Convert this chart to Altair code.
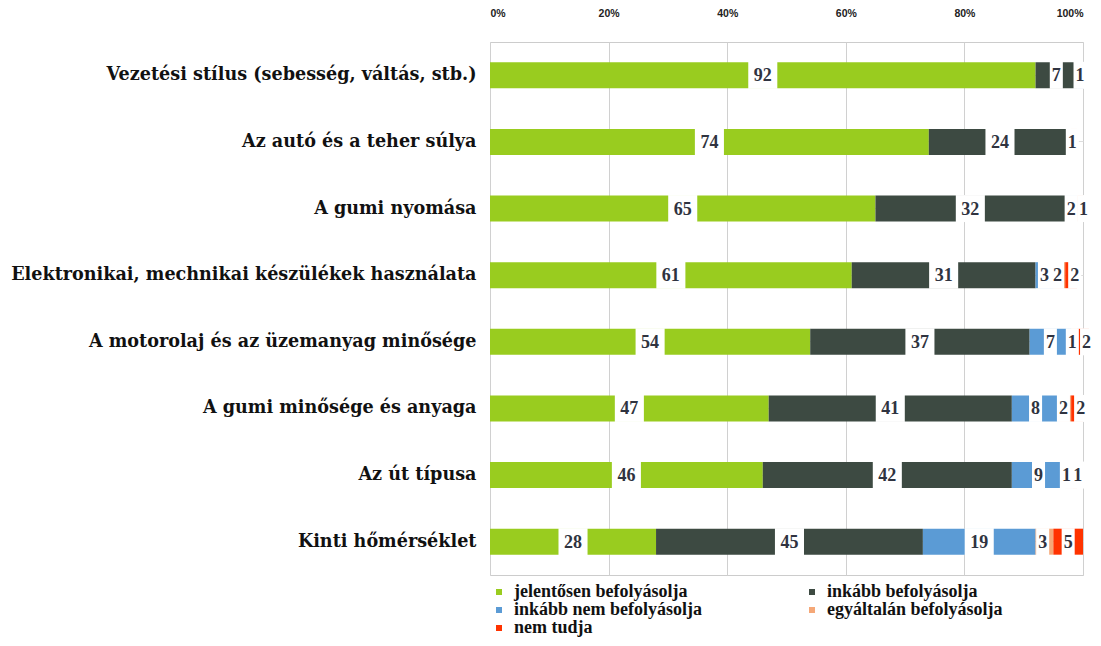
import altair as alt
import pandas as pd

categories = [
    "Vezetési stílus (sebesség, váltás, stb.)",
    "Az autó és a teher súlya",
    "A gumi nyomása",
    "Elektronikai, mechnikai készülékek használata",
    "A motorolaj és az üzemanyag minősége",
    "A gumi minősége és anyaga",
    "Az út típusa",
    "Kinti hőmérséklet",
]
series = [
    "jelentősen befolyásolja",
    "inkább befolyásolja",
    "inkább nem befolyásolja",
    "egyáltalán befolyásolja",
    "nem tudja",
]
colors = ["#99cc1f", "#3d4a42", "#5b9bd5", "#f5a878", "#ff3300"]

jelentosen = [92, 74, 65, 61, 54, 47, 46, 28]
inkabb = [7, 24, 32, 31, 37, 41, 42, 45]
inkabb_nem = [1, 0, 2, 3, 7, 8, 9, 19]
egyaltalan = [0, 1, 0, 2, 1, 2, 1, 3]
nem_tudja = [0, 0, 1, 2, 2, 2, 1, 5]

rows = []
for s_i, (s, vals) in enumerate(zip(series, [jelentosen, inkabb, inkabb_nem, egyaltalan, nem_tudja])):
    for c, v in zip(categories, vals):
        rows.append({"cat": c, "series": s, "order": s_i, "value": v})
df = pd.DataFrame(rows)

base = alt.Chart(df).transform_stack(
    stack="value", groupby=["cat"], as_=["x0", "x1"], sort=[alt.SortField("order")]
).transform_calculate(
    mid="(datum.x0 + datum.x1) / 2 + (datum.order == 4 && datum.value < 3 ? 0.6 : (datum.order == 3 ? -0.3 : 0))",
    half="length(toString(datum.value)) > 1 ? 2.45 : 1.1",
).transform_calculate(
    b0="datum.mid - datum.half",
    b1="datum.mid + datum.half",
)

yenc = alt.Y("cat:N", sort=categories, title=None,
             scale=alt.Scale(paddingInner=0.6, paddingOuter=0.3),
             axis=alt.Axis(labelFont="DejaVu Serif", labelFontWeight="bold",
                           labelFontSize=17.6, labelColor="#111", labelPadding=14,
                           ticks=False, domain=False, labelLimit=600))

bars = base.mark_bar(size=26).encode(
    x=alt.X("x0:Q", scale=alt.Scale(domain=[0, 100], nice=False), title=None,
            axis=alt.Axis(orient="top", values=[0, 20, 40, 60, 80, 100],
                          labelExpr="datum.value + '%'", labelFont="Liberation Sans",
                          labelFontWeight="bold", labelFontSize=10.5, labelColor="#222",
                          ticks=False, domain=False, gridColor="#d0d0d0", labelPadding=24)),
    x2="x1:Q",
    y=yenc,
    color=alt.Color("series:N", sort=series,
                    scale=alt.Scale(domain=series, range=colors),
                    legend=alt.Legend(title=None, orient="none", legendX=0, legendY=541,
                                      columns=2, columnPadding=100, rowPadding=-1,
                                      symbolType="square", symbolSize=36,
                                      labelFont="Liberation Serif", labelFontWeight="bold",
                                      labelFontSize=18, labelColor="#111", labelLimit=0,
                                      direction="horizontal", labelOffset=6)),
)

boxes = base.transform_filter("datum.value > 0").mark_bar(size=27, color="white").encode(
    x="b0:Q", x2="b1:Q", y=alt.Y("cat:N", sort=categories),
)

labels = base.transform_filter("datum.value > 0").mark_text(
    font="Liberation Serif", fontWeight="bold", fontSize=18, color="#2f3340", dy=1
).encode(
    x="mid:Q", y=alt.Y("cat:N", sort=categories), text="value:Q",
)

chart = alt.layer(bars, boxes, labels).properties(
    width=593, height=533,
    autosize=alt.AutoSizeParams(type="none"),
    padding={"left": 482, "top": 34, "right": 10, "bottom": 63},
).configure_view(stroke="#cccccc").configure_axis(grid=True)

chart.save("out.html", embed_options={"renderer": "svg", "actions": False})
